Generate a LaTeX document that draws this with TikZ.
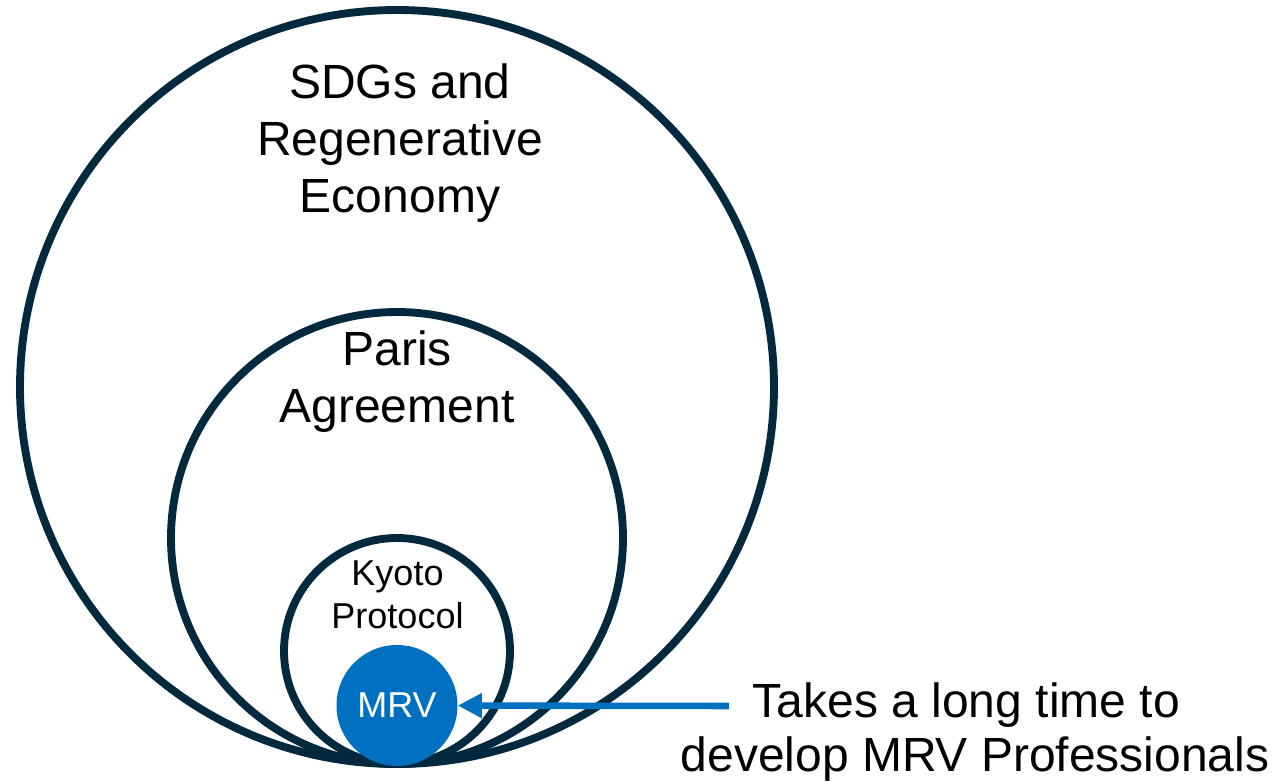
\documentclass[tikz,border=0pt]{standalone}
\usepackage{fontspec}
\setmainfont{Liberation Sans}
\usetikzlibrary{arrows.meta}
\definecolor{ringnavy}{HTML}{03293F}
\definecolor{mrvblue}{HTML}{0070C0}
\begin{document}
\begin{tikzpicture}[x=0.75pt,y=-0.75pt,
  ring/.style={circle, draw=ringnavy, line width=5.9pt, inner sep=0pt, outer sep=0pt},
  biglabel/.style={anchor=base, align=center, text=black, inner sep=0pt,
    font=\fontsize{36}{42.75}\selectfont},
  smalllabel/.style={anchor=base, align=center, text=black, inner sep=0pt,
    font=\fontsize{27}{32.25}\selectfont},
  pointer/.style={draw=mrvblue, line width=4.9pt,
    -{Triangle[length=18pt,width=17.5pt]}}]
  \useasboundingbox (0,0) rectangle (1283,782);
  \fill[white] (0,0) rectangle (1283,782);

  % nested circles, all touching at the bottom
  \node[ring, minimum size=565.5pt] (sdg)   at (397,387) {};
  \node[ring, minimum size=339pt]   (paris) at (397,538) {};
  \node[ring, minimum size=169.5pt] (kyoto) at (397,651) {};
  \node[circle, fill=mrvblue, inner sep=0pt, minimum size=90.75pt,
        text=white, font=\fontsize{27}{32}\selectfont] (mrv) at (397,705.5) {\raisebox{-1.5pt}{MRV}};

  % circle titles (base anchor sits on the last line)
  \node[biglabel]   (sdgtext)   at (400,212)   {SDGs and\\Regenerative\\Economy};
  \node[biglabel]   (paristext) at (397,422)   {Paris\\Agreement};
  \node[smalllabel] (kyototext) at (397.5,628) {Kyoto\\Protocol};

  % callout
  \coordinate (tail) at (729,706);
  \draw[pointer] (tail) -- (mrv);
  \node[anchor=base, align=center, inner sep=0pt,
        font=\fontsize{36}{40.9}\selectfont] (note) at (975,771.7)
        {Takes a long time to\kern 13pt\\develop MRV Professionals};
\end{tikzpicture}
\end{document}
